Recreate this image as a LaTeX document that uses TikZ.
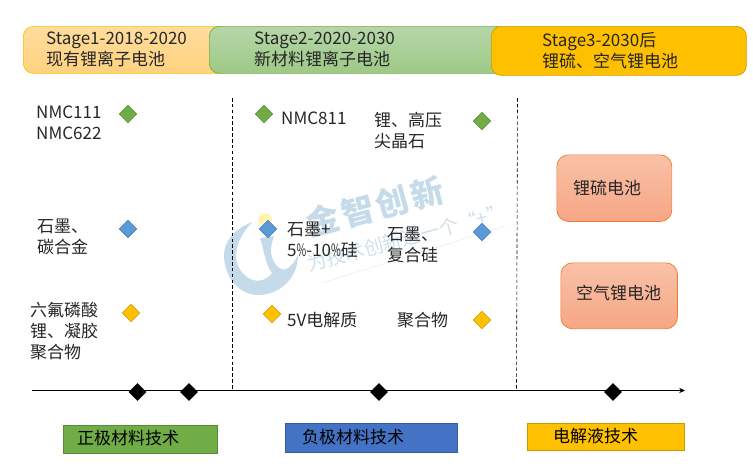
\documentclass[tikz,border=0pt]{standalone}
\usepackage{fontspec}
\setmainfont{Noto Sans CJK SC}
\usetikzlibrary{
    positioning,           % Relative positioning
    shapes.geometric,      % Geometric shapes
    arrows.meta            % Modern arrow tips
}
\definecolor{greenfill}{HTML}{70AD47}
\definecolor{bluefill}{HTML}{5B9BD5}
\definecolor{deepblue}{HTML}{4472C4}
\definecolor{goldfill}{HTML}{FFC000}
\definecolor{wmblue}{HTML}{C5DBE9}
\definecolor{inkgray}{HTML}{262626}
\definecolor{salmontop}{HTML}{F9C1A8}
\definecolor{salmonbot}{HTML}{F6A684}
\definecolor{salmonline}{HTML}{ED7D31}
\definecolor{peachtop}{HTML}{FFDC9E}
\definecolor{peachbot}{HTML}{FFD27F}
\definecolor{leaftop}{HTML}{B6D6A8}
\definecolor{leafbot}{HTML}{9DC986}
\newcommand{\pct}{\scalebox{0.62}[1]{\%}}
\newcommand{\wmgap}{\hspace{2.5pt}}
\tikzset{
    label/.style={anchor=west,inner sep=0pt,align=left,text=inkgray,font=\fontsize{14.5}{17.9}\selectfont},
    stage/.style={rounded corners=8.5pt,draw,line width=0.6pt,minimum height=1.41cm,inner sep=0pt},
    gem/.style={diamond,inner sep=0pt,minimum size=0.53cm,line width=0.4pt},
    tick/.style={diamond,fill=black,inner sep=0pt,minimum size=0.54cm},
    techbox/.style={draw,line width=0.6pt,inner sep=0pt},
    salmon/.style={rounded corners=10pt,draw=salmonline,line width=0.6pt,top color=salmontop,bottom color=salmonbot,inner sep=0pt},
    watermark/.style={text=wmblue,inner sep=0pt,rotate=15}
}
\begin{document}
\begin{tikzpicture}[x=0.03cm,y=-0.03cm]
    \useasboundingbox (0,0) rectangle (753,472);
    % watermark
    \fill[wmblue] (252,222) .. controls (232,230) and (224,243) .. (224,255) .. controls (224,278) and (240,295) .. (258,295) .. controls (280,295) and (298,278) .. (298,255) .. controls (292,268) and (284,272) .. (279,268) .. controls (270,260) and (269,250) .. (274,236) -- (260,238) .. controls (264,248) and (264,262) .. (272,273) .. controls (262,286) and (246,282) .. (238,266) .. controls (233,252) and (238,238) .. (252,222);
    \fill[orange!30!yellow!30!white] (265,220) circle (7);
    \coordinate (wmlineL) at (322,283);
    \coordinate (wmlineR) at (505,226);
    \draw[wmblue!25,line width=1pt] (wmlineL) -- (wmlineR);
    \node[watermark,font=\bfseries\fontsize{28}{28}\selectfont] (wmname) at (375,206.5) {金\wmgap 智\wmgap 创\wmgap 新};
    \node[watermark,text=wmblue!85,font=\fontsize{16.6}{16.6}\selectfont] (wmslogan) at (407,238) {为技术创新进一个“+”};
    % stages
    \node[stage,anchor=north west,minimum width=6.15cm,draw=goldfill,top color=peachtop,bottom color=peachbot] (stageA) at (23,26) {};
    \node[stage,anchor=north west,minimum width=8.9cm,draw=greenfill,top color=leaftop,bottom color=leafbot] (stageB) at (209,26) {};
    \node[stage,anchor=north west,minimum width=7.65cm,minimum height=1.47cm,draw=goldfill!80!black,fill=goldfill] (stageC) at (491,26) {};
    \node[label] (stageAtext) at (46,49) {Stage1-2018-2020\\现有锂离子电池};
    \node[label] (stageBtext) at (254,49) {Stage2-2020-2030\\新材料锂离子电池};
    \node[label] (stageCtext) at (542,51) {Stage3-2030后\\锂硫、空气锂电池};
    % column one
    \node[label] (nmcA) at (36,123) {NMC111\\NMC622};
    \node[gem,draw=greenfill!80!black,fill=greenfill] (gemAa) at (128,114) {};
    \node[label] (graphite) at (37,237) {石墨、\\碳合金};
    \node[gem,draw=deepblue,fill=bluefill] (gemAb) at (128,229) {};
    \node[label] (lipf) at (30,331) {六氟磷酸\\锂、凝胶\\聚合物};
    \node[gem,draw=goldfill!80!black,fill=goldfill] (gemAc) at (131,313) {};
    % column two
    \node[gem,draw=greenfill!80!black,fill=greenfill] (gemBa) at (264,114) {};
    \node[label] (nmcB) at (281,118) {NMC811};
    \node[label] (spinel) at (374,131) {锂、高压\\尖晶石};
    \node[gem,draw=greenfill!80!black,fill=greenfill] (gemBb) at (482,121) {};
    \node[gem,draw=deepblue,fill=bluefill] (gemBc) at (268,229) {};
    \node[label] (silicon) at (287,240) {石墨+\\5\pct-10\pct 硅};
    \node[label] (compsi) at (387,245) {石墨、\\复合硅};
    \node[gem,draw=deepblue,fill=bluefill] (gemBd) at (482,232) {};
    \node[gem,draw=goldfill!80!black,fill=goldfill] (gemBe) at (272,314) {};
    \node[label] (fivev) at (287,320) {5V电解质};
    \node[label] (polymer) at (397,320) {聚合物};
    \node[gem,draw=goldfill!80!black,fill=goldfill] (gemBf) at (482,320) {};
    % column three
    \node[salmon,anchor=north west,minimum width=3.45cm,minimum height=2cm] (lis) at (556.5,154.5) {};
    \node[label] (listext) at (573,188) {锂硫电池};
    \node[salmon,anchor=north west,minimum width=3.5cm,minimum height=1.98cm] (liair) at (560.5,262.5) {};
    \node[label] (liairtext) at (576,293) {空气锂电池};
    % time axis
    \coordinate (axisL) at (32,390.5);
    \coordinate (axisR) at (685,390.5);
    \coordinate (sepAtop) at (232.5,98);
    \coordinate (sepAbot) at (232.5,390.5);
    \coordinate (sepBtop) at (517.5,98);
    \coordinate (sepBbot) at (516.5,390.5);
    \draw[densely dashed,line width=0.5pt] (sepAtop) -- (sepAbot);
    \draw[densely dashed,line width=0.5pt] (sepBtop) -- (sepBbot);
    \draw[line width=0.7pt,-{Stealth[length=5pt,width=4.5pt]}] (axisL) -- (axisR);
    \node[tick] (tickA) at (137.5,392) {};
    \node[tick] (tickB) at (189,392) {};
    \node[tick] (tickC) at (379,392) {};
    \node[tick] (tickD) at (613,392) {};
    % technology boxes
    \node[techbox,anchor=north west,minimum width=4.63cm,minimum height=0.86cm,draw=greenfill!80!black,fill=greenfill] (cathode) at (62.5,424.5) {};
    \node[label,text=black] (cathodetext) at (77,438.5) {正极材料技术};
    \node[techbox,anchor=north west,minimum width=5.16cm,minimum height=0.89cm,draw=deepblue!80!black,fill=deepblue] (anode) at (285,422.5) {};
    \node[label,text=black] (anodetext) at (302,437) {负极材料技术};
    \node[techbox,anchor=north west,minimum width=4.72cm,minimum height=0.81cm,draw=goldfill!80!black,fill=goldfill] (electrolyte) at (527,422.5) {};
    \node[label,text=black] (electrolytetext) at (553,436) {电解液技术};
\end{tikzpicture}
\end{document}
